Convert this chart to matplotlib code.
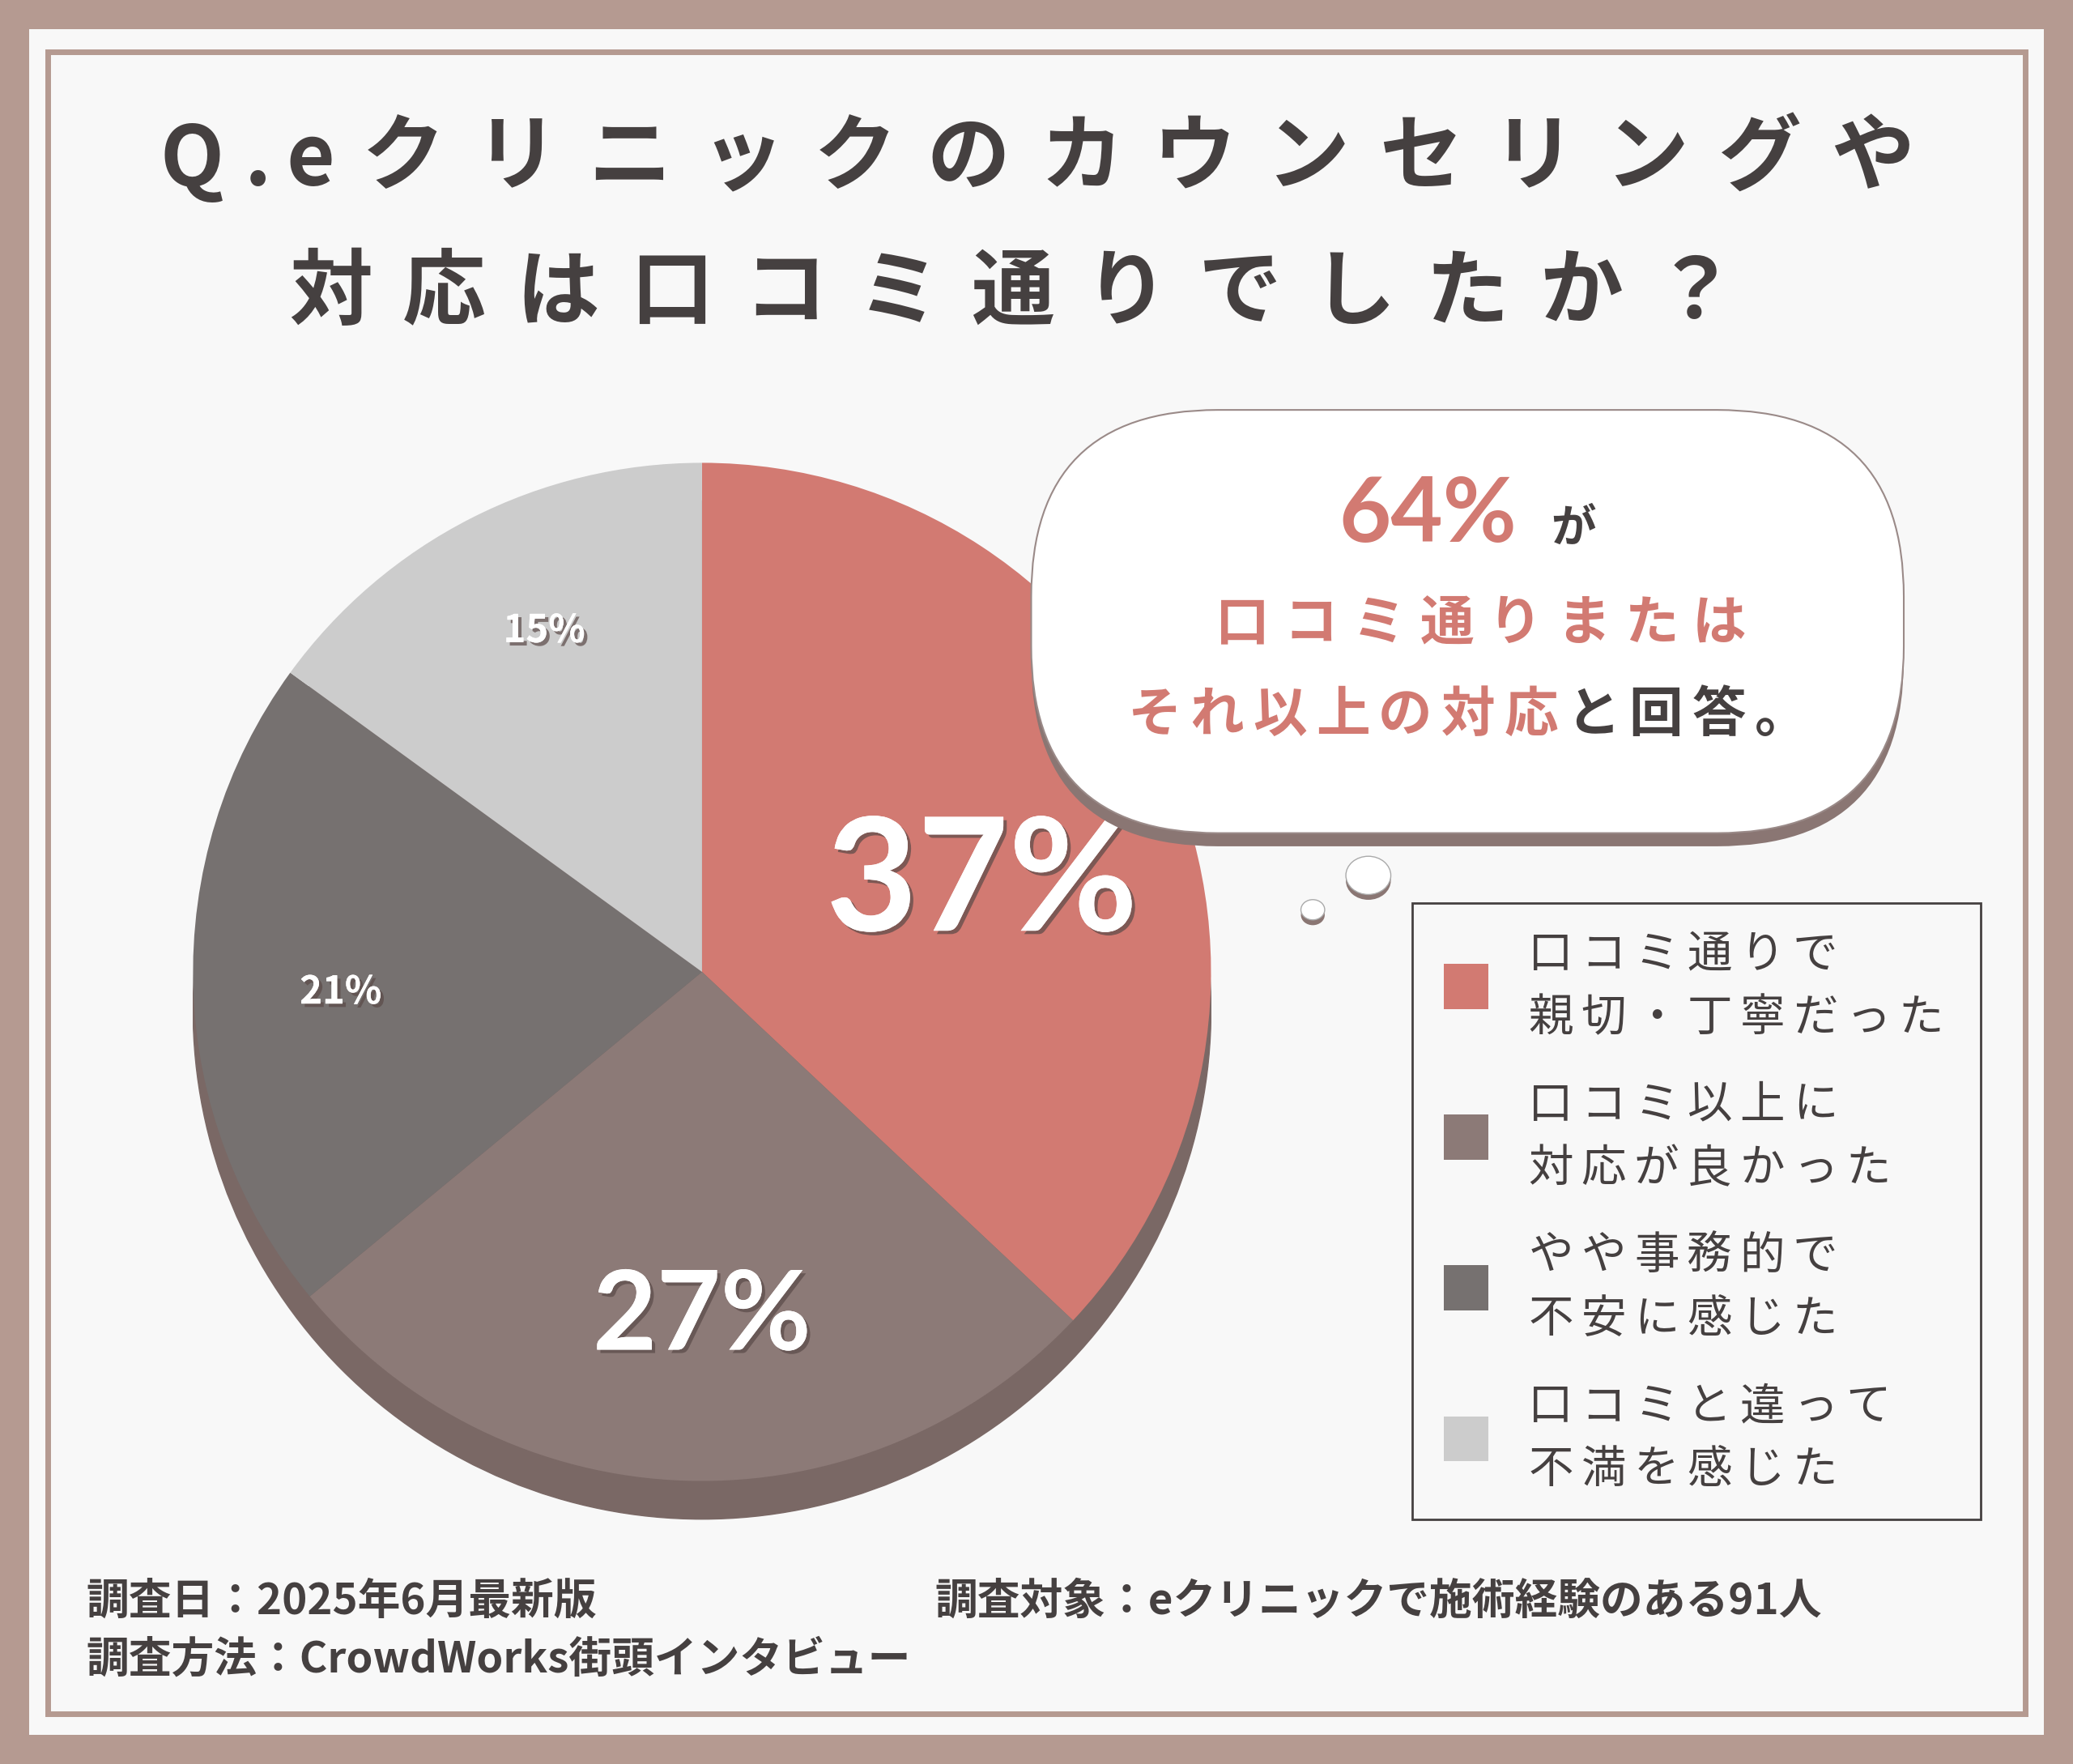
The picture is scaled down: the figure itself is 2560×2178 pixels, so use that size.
import matplotlib
matplotlib.use("Agg")
import matplotlib.pyplot as plt
from matplotlib.patches import Rectangle, FancyBboxPatch, Circle
import matplotlib.patheffects as pe

categories = ["口コミ通りで\n親切・丁寧だった", "口コミ以上に\n対応が良かった", "やや事務的で\n不安に感じた", "口コミと違って\n不満を感じた"]
values = [37, 27, 21, 15]
colors = ["#d27a72", "#8c7a77", "#767170", "#cccccc"]
label_sizes = [140, 98, 34, 34]

FONT = "Noto Sans CJK JP"
plt.rcParams["font.family"] = FONT
W, H = 1568, 1334
fig = plt.figure(figsize=(25.6, 21.78), dpi=100)
fig.patch.set_facecolor("#b59a91")

def P(x, y):
    return x / W, 1 - y / H

def rect(x0, y0, x1, y1, z=0, **kw):
    fig.patches.append(Rectangle(P(x0, y1), (x1 - x0) / W, (y1 - y0) / H, transform=fig.transFigure, zorder=z, **kw))

def spaced(x0, y, s, pitch, **kw):
    for i, ch in enumerate(s):
        fig.text(*P(x0 + i * pitch, y), ch, ha="center", va="center", zorder=5, **kw)

rect(22, 22, 1546, 1312, z=-2, facecolor="#f8f8f8", edgecolor="none")
rect(36, 39, 1532, 1296, z=-1, facecolor="none", edgecolor="#b59a91", lw=5)

tkw = dict(fontsize=74, fontweight="bold", color="#454040")
for x, ch in zip([145, 195, 235], "Q.e"):
    fig.text(*P(x, 122), ch, ha="center", va="center", zorder=5, **tkw)
spaced(305, 120, "クリニックのカウンセリングや", 85.5, **tkw)
spaced(250, 222, "対応は口コミ通りでしたか？", 86, **tkw)

# pie
cx, cy, r = 531, 735, 385
ax = fig.add_axes([(cx - r) / W, (H - cy - r - 30) / H, 2 * r / W, (2 * r + 30) / H])
ax.set_zorder(1)
ax.add_patch(Circle((0.0, -0.075), 1.0, color="#7a6865", zorder=0))
ax.pie(values, colors=colors, startangle=90, counterclock=False, radius=1.0,
       wedgeprops=dict(linewidth=0))
ax.set_xlim(-1, 1); ax.set_ylim(-1.078, 1)
ax.set_aspect("auto")
ax.axis("off")
label_pos = [(0.55, 0.17), (0.0, -0.68), (-0.71, -0.04), (-0.31, 0.67)]
for (lx, ly), v, fs in zip(label_pos, values, label_sizes):
    ax.text(lx, ly, f"{v}%", ha="center", va="center", fontsize=fs, fontweight="bold", color="white",
            family="Lato" if fs > 50 else FONT,
            path_effects=[pe.withSimplePatchShadow(offset=(3, -3), shadow_rgbFace="#5a4a48", alpha=0.7), pe.Normal()])

# speech bubble
bx0, by0, bx1, by1 = 780, 310, 1440, 630
for dy, fc, ec in [(10, "#8a7673", "none"), (0, "white", "#9a8a88")]:
    fig.patches.append(FancyBboxPatch(P(bx0, by1 + dy), (bx1 - bx0) / W, (by1 - by0) / H,
                       boxstyle="round,pad=0,rounding_size=0.09", transform=fig.transFigure,
                       facecolor=fc, edgecolor=ec, lw=1.5, mutation_aspect=W / H, zorder=3))
for (x, y, rr) in [(1035, 662, 17), (993, 688, 9)]:
    fig.patches.append(Circle(P(x, y + 4), rr / W, transform=fig.transFigure, facecolor="#8a7673", edgecolor="none", zorder=3))
    fig.patches.append(Circle(P(x, y), rr / W, transform=fig.transFigure, facecolor="white", edgecolor="#aaa", lw=1, zorder=3))

fig.text(*P(1080, 390), "64%", ha="center", va="center", fontsize=80, color="#d27a72", family="Lato", fontweight="bold", zorder=5)
fig.text(*P(1190, 400), "が", ha="center", va="center", fontsize=40, color="#454040", fontweight="bold", zorder=5)
spaced(940, 472, "口コミ通りまたは", 51.5, fontsize=48, color="#d27a72", fontweight="bold")
spaced(873, 541, "それ以上の対応", 47.5, fontsize=48, color="#d27a72", fontweight="bold")
spaced(1205, 541, "と回答。", 47.5, fontsize=48, color="#454040", fontweight="bold")

# legend
rect(1068, 683, 1498, 1149, z=2, facecolor="none", edgecolor="#454040", lw=2)
for i, (c, lab) in enumerate(zip(colors, categories)):
    yc = 746 + i * 114
    rect(1092, yc - 17, 1126, yc + 17, z=2, facecolor=c, edgecolor="none")
    l1, l2 = lab.split("\n")
    spaced(1173, yc - 24, l1, 40, fontsize=40, color="#454040")
    spaced(1173, yc + 24, l2, 40, fontsize=40, color="#454040")

# footer
kw = dict(ha="left", va="center", fontsize=38, color="#454040", fontweight="bold")
fig.text(*P(65, 1211), "調査日：2025年6月最新版", **kw)
fig.text(*P(65, 1255), "調査方法：CrowdWorks街頭インタビュー", **kw)
fig.text(*P(707, 1211), "調査対象：eクリニックで施術経験のある91人", **kw)

fig.savefig("out.png", dpi=100)
